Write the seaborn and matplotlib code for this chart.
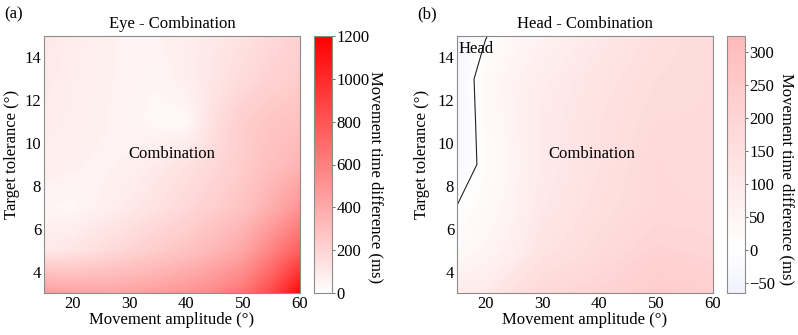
import numpy as np
import matplotlib
matplotlib.use("Agg")
import matplotlib.pyplot as plt
from matplotlib.colors import ListedColormap
import seaborn as sns

# Grid of movement amplitudes (deg) and target tolerances (deg)
amplitude = [15, 20, 25, 30, 35, 40, 45, 50, 55, 60]
tolerance = [3, 5, 7, 9, 11, 13, 15]

# Movement time difference (ms), rows = tolerance (bottom to top), cols = amplitude
eye_minus_combo = [
    [460, 430, 420, 430, 460, 500, 560, 650, 850, 1150],
    [100, 120, 160, 200, 240, 280, 340, 420, 580, 750],
    [50, 40, 70, 100, 140, 180, 230, 280, 380, 500],
    [80, 70, 60, 70, 100, 140, 180, 240, 300, 350],
    [90, 80, 70, 55, 35, 30, 150, 230, 270, 290],
    [100, 85, 70, 60, 50, 80, 120, 170, 210, 240],
    [110, 90, 75, 60, 65, 80, 110, 140, 180, 210],
]

head_minus_combo = [
    [90, 100, 150, 180, 190, 200, 215, 240, 235, 220],
    [30, 50, 80, 130, 150, 170, 185, 200, 195, 190],
    [2, 30, 60, 110, 130, 150, 165, 180, 180, 180],
    [-42, 18, 55, 100, 120, 140, 160, 180, 175, 170],
    [-45, 24, 60, 100, 120, 140, 155, 170, 170, 170],
    [-45, 30, 60, 90, 110, 130, 145, 160, 165, 170],
    [-40, -3, 40, 60, 85, 110, 130, 150, 160, 170],
]

sns.set_theme(style="white")
plt.rcParams["font.family"] = ["Liberation Serif", "DejaVu Serif"]
for key in ("text.color", "axes.labelcolor", "xtick.color", "ytick.color", "axes.titlecolor"):
    plt.rcParams[key] = "black"

FS = 12
frame = "#8c8c8c"

# Shared diverging scale: blue at -1200, white at 0, red at +1200
full_cmap = sns.blend_palette(["#0000ff", "#ffffff", "#ff0000"], n_colors=512, as_cmap=True)
SCALE = 1200.0


def sub_cmap(vmin, vmax):
    f0 = (vmin + SCALE) / (2 * SCALE)
    f1 = (vmax + SCALE) / (2 * SCALE)
    return ListedColormap(full_cmap(np.linspace(f0, f1, 256)))


fig = plt.figure(figsize=(7.98, 3.35), dpi=100)
W, H = 798.0, 335.0


def frac(x0, y0, x1, y1):
    return [x0 / W, 1 - y1 / H, (x1 - x0) / W, (y1 - y0) / H]


panels = [
    dict(data=eye_minus_combo, vmin=0, vmax=1200, ticks=[0, 200, 400, 600, 800, 1000, 1200],
         ax=frac(44, 36, 300, 293), cax=frac(314, 36, 332, 293),
         title="Eye - Combination", tag="(a)", tagx=4, labx=376, laby=177,
         ylab_x=-0.094, text_x=37.4, contour=False),
    dict(data=head_minus_combo, vmin=-65, vmax=324, ticks=[-50, 0, 50, 100, 150, 200, 250, 300],
         ax=frac(457, 36, 713, 293), cax=frac(727, 36, 745, 293),
         title="Head - Combination", tag="(b)", tagx=417, labx=787, laby=179,
         ylab_x=-0.105, text_x=38.7, contour=True),
]

dx = (amplitude[1] - amplitude[0]) / 2
dy = (tolerance[1] - tolerance[0]) / 2

for p in panels:
    ax = fig.add_axes(p["ax"])
    cax = fig.add_axes(p["cax"])
    Z = np.array(p["data"], dtype=float)
    cmap = sub_cmap(p["vmin"], p["vmax"])
    im = ax.imshow(Z, origin="lower", cmap=cmap, vmin=p["vmin"], vmax=p["vmax"],
                   interpolation="bilinear", aspect="auto",
                   extent=(amplitude[0] - dx, amplitude[-1] + dx,
                           tolerance[0] - dy, tolerance[-1] + dy))
    ax.set_xlim(amplitude[0], amplitude[-1])
    ax.set_ylim(tolerance[0], tolerance[-1])
    ax.set_xticks([20, 30, 40, 50, 60])
    ax.set_yticks([4, 6, 8, 10, 12, 14])
    ax.tick_params(labelsize=FS, length=0, pad=2)
    for s in ax.spines.values():
        s.set_color(frame)
        s.set_linewidth(0.8)
    ax.set_xlabel("Movement amplitude (°)", fontsize=FS, labelpad=0)
    ax.set_ylabel("Target tolerance (°)", fontsize=FS)
    ax.yaxis.set_label_coords(p["ylab_x"], 0.54)
    ax.set_title(p["title"], fontsize=FS, pad=6)
    ax.text(p["text_x"], 9.5, "Combination", fontsize=FS, ha="center", va="center")

    if p["contour"]:
        ax.contour(amplitude, tolerance, Z, levels=[0], colors="#222222", linewidths=0.8)
        ax.text(15.2, 14.4, "Head", fontsize=FS, ha="left", va="center")

    cb = fig.colorbar(im, cax=cax, ticks=p["ticks"])
    cb.outline.set_edgecolor(frame)
    cb.outline.set_linewidth(0.8)
    cax.tick_params(labelsize=FS, length=2, width=0.6, color="#555555", direction="out", pad=1)
    fig.text(p["labx"] / W, 1 - p["laby"] / H, "Movement time difference (ms)",
             rotation=270, fontsize=FS, ha="center", va="center")
    fig.text(p["tagx"] / W, 1 - 14 / H, p["tag"], fontsize=FS, ha="left", va="center")

fig.savefig("out.png", dpi=100)
